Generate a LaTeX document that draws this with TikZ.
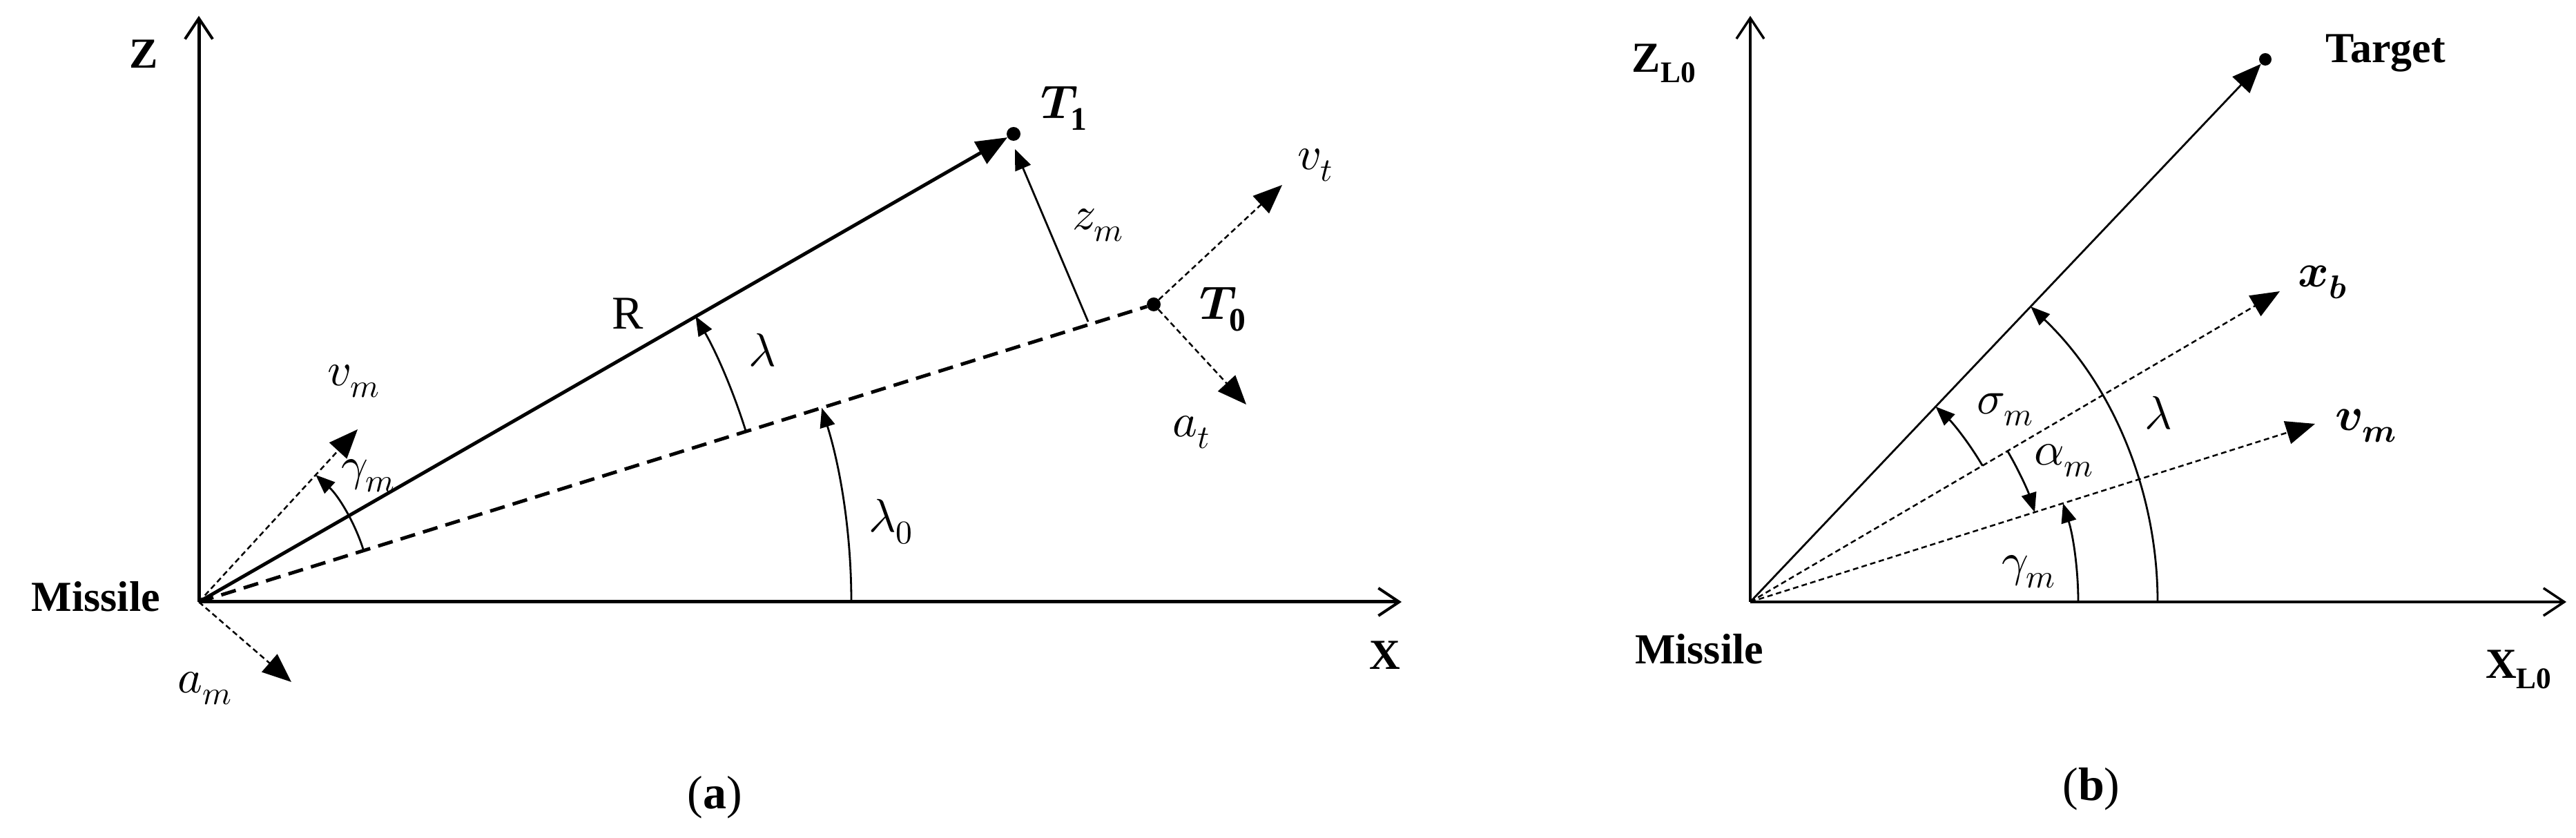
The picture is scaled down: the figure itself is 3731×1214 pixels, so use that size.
\documentclass[tikz,border=0pt]{standalone}
\usepackage{fontspec}
\usepackage{unicode-math}
\setmainfont{Liberation Serif}
\setmathfont{Latin Modern Math}
\usetikzlibrary{arrows.meta}
\tikzset{
 axis/.style={line width=5pt,-{Straight Barb[length=30pt,width=40pt,line width=4pt]}},
 axisb/.style={line width=4pt,-{Straight Barb[length=30pt,width=40pt,line width=3.5pt]}},
 vec/.style={line width=2.5pt,dash pattern=on 8pt off 5pt,-{Triangle[length=42pt,width=34pt]}},
 arcarrow/.style={line width=2.8pt,-{Triangle[length=28pt,width=22pt]}},
 lbl/.style={font=\fontsize{68}{75}\selectfont,inner sep=0pt},
 blbl/.style={font=\fontsize{62}{70}\selectfont\bfseries,inner sep=0pt},
 dot/.style={circle,fill=black,inner sep=0pt,minimum size=20pt},
}
\begin{document}
\begin{tikzpicture}[x=1pt,y=1pt]
\useasboundingbox (0,0) rectangle (3731,1214);
% ---------- panel (a)
\coordinate (Oa) at (288,342);
\coordinate (Za) at (288,1191);
\coordinate (Xa) at (2030,342);
\node[dot] (T1) at (1468,1020) {};
\node[dot] (T0) at (1671,773) {};
\coordinate (foot) at (1576,748);
\coordinate (vt) at (1857,946);
\coordinate (at) at (1805,628);
\coordinate (am) at (422,226);
\coordinate (vma) at (518,592);
\draw[axis] (Oa) -- (Za);
\draw[axis] (Oa) -- (Xa);
\draw[line width=5pt,-{Triangle[length=45pt,width=36pt]}] (Oa) -- (T1);
\draw[line width=5pt,dash pattern=on 22pt off 12pt] (Oa) -- (T0);
\draw[line width=2.8pt,-{Triangle[length=30pt,width=24pt]}] (foot) -- ([shift={(2,-22)}]T1.center);
\draw[vec] (T0) -- (vt);
\draw[vec] (T0) -- (at);
\draw[vec] (Oa) -- (am);
\draw[vec] (Oa) -- (vma);
\draw[arcarrow] (Oa) ++(17.3:250) arc[start angle=17.3,end angle=47.4,radius=250];
\draw[arcarrow] (Oa) ++(17.3:830) arc[start angle=17.3,end angle=29.9,radius=830];
\draw[arcarrow] (Oa) ++(0:945) arc[start angle=0,end angle=17.3,radius=945];
\node[blbl] (Zl) at (208,1136) {Z};
\node[blbl] (Xl) at (2006,265) {X};
\node[blbl,anchor=east] (Ml) at (232,350) {Missile};
\node[lbl] (T1l) at (1541,1057) {$\symbfit{T}_{\mathbf{1}}$};
\node[lbl] (T0l) at (1771,766) {$\symbfit{T}_{\mathbf{0}}$};
\node[lbl] (zml) at (1590,888) {$z_m$};
\node[lbl] (vtl) at (1905,975) {$v_t$};
\node[lbl] (atl) at (1725,588) {$a_t$};
\node[lbl] (aml) at (297,217) {$a_m$};
\node[lbl] (vmal) at (512,662) {$v_m$};
\node[lbl] (gmal) at (533,525) {$\gamma_m$};
\node[lbl] (Rl) at (909,760) {R};
\node[lbl] (lal) at (1104,707) {$\lambda$};
\node[lbl] (la0l) at (1290,458) {$\lambda_0$};
\node[font=\fontsize{68}{75}\selectfont] (capa) at (1035,59) {(\textbf{a})};
% ---------- panel (b)
\coordinate (Ob) at (2535,342);
\coordinate (Zb) at (2535,1191);
\coordinate (Xb) at (3717,342);
\node[dot,minimum size=18pt] (Tg) at (3281,1128) {};
\coordinate (xb) at (3302,792);
\coordinate (vmb) at (3353,600);
\draw[axisb] (Ob) -- (Zb);
\draw[axisb] (Ob) -- (Xb);
\draw[line width=2.8pt,-{Triangle[length=42pt,width=34pt]}] (Ob) -- (Tg);
\draw[vec] (Ob) -- (xb);
\draw[vec] (Ob) -- (vmb);
\draw[arcarrow] (Ob) ++(0:590) arc[start angle=0,end angle=46.5,radius=590];
\draw[arcarrow] (Ob) ++(0:475) arc[start angle=0,end angle=17.5,radius=475];
\draw[arcarrow] (Ob) ++(30.4:390) arc[start angle=30.4,end angle=46.5,radius=390];
\draw[arcarrow] (Ob) ++(30.4:432) arc[start angle=30.4,end angle=17.5,radius=432];
\node[blbl] (ZLl) at (2410,1122) {Z\textsubscript{L0}};
\node[blbl] (XLl) at (3648,244) {X\textsubscript{L0}};
\node[blbl] (Mbl) at (2461,274) {Missile};
\node[blbl] (Tgl) at (3455,1137) {Target};
\node[lbl] (xbl) at (3364,805) {$\symbfit{x}_{\symbfit{b}}$};
\node[lbl] (vmbl) at (3427,597) {$\symbfit{v}_{\symbfit{m}}$};
\node[lbl] (lbl2) at (3126,616) {$\lambda$};
\node[lbl] (gmbl) at (2938,386) {$\gamma_m$};
\node[lbl] (sml) at (2904,620) {$\sigma_m$};
\node[lbl] (aml2) at (2989,547) {$\alpha_m$};
\node[font=\fontsize{68}{75}\selectfont] (capb) at (3029,71) {(\textbf{b})};
\end{tikzpicture}
\end{document}
